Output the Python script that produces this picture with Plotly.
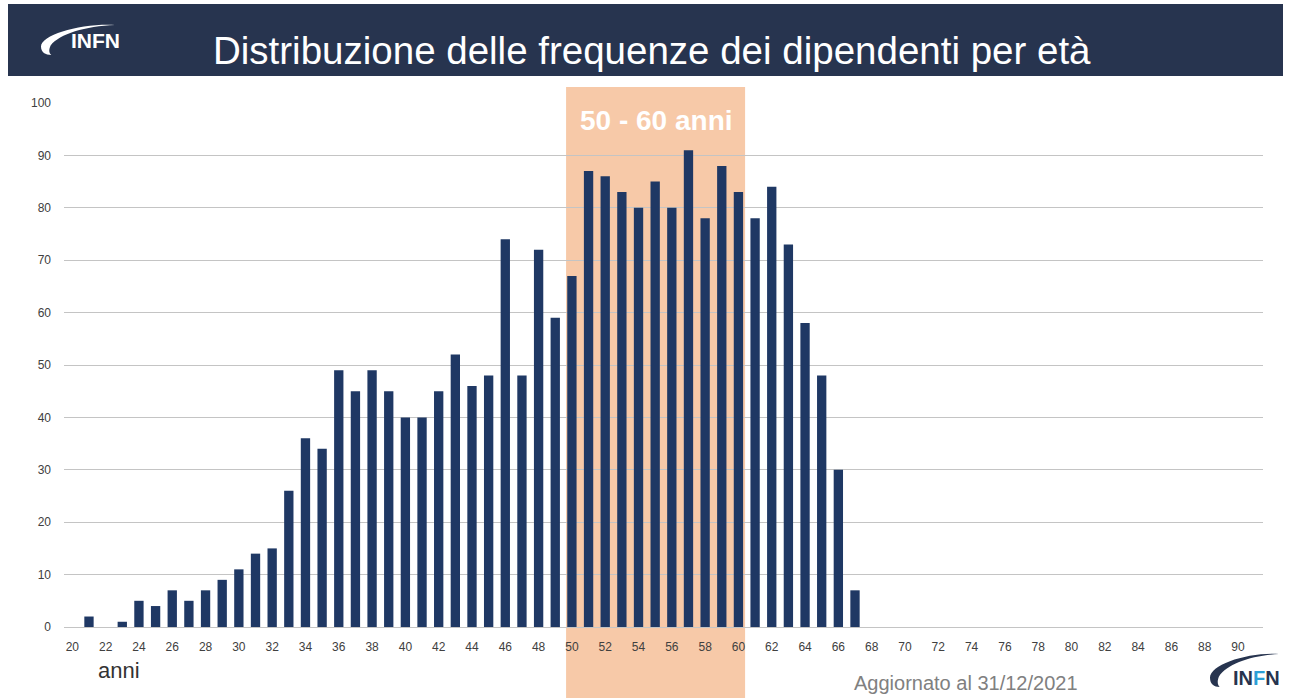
import plotly.graph_objects as go

# ---- data ----
ages = list(range(20, 91))
counts = [0, 2, 0, 1, 5, 4, 7, 5, 7, 9,
          11, 14, 15, 26, 36, 34, 49, 45, 49, 45,
          40, 40, 45, 52, 46, 48, 74, 48, 72, 59,
          67, 87, 86, 83, 80, 85, 80, 91, 78, 88,
          83, 78, 84, 73, 58, 48, 30, 7, 0, 0,
          0, 0, 0, 0, 0, 0, 0, 0, 0, 0,
          0, 0, 0, 0, 0, 0, 0, 0, 0, 0, 0]
tick_ages = list(range(20, 91, 2))
highlight_range = (50, 60)

title_text = "Distribuzione delle frequenze dei dipendenti per età"
highlight_label = "50 - 60 anni"
axis_label = "anni"
update_text = "Aggiornato al 31/12/2021"

W, H = 1289, 698
L, R, T, B = 64, 26, 103, 71
PW, PH = W - L - R, H - T - B

def px(x):
    return (x - L) / PW

def py(y):
    return (H - B - y) / PH

NAVY = "#1f3864"

fig = go.Figure()
fig.add_trace(go.Bar(
    x=ages, y=counts, width=0.56,
    marker=dict(color=NAVY, line=dict(width=0)),
    hoverinfo="x+y",
))

shapes = []
# header band
shapes.append(dict(type="rect", xref="paper", yref="paper",
                   x0=px(8), x1=px(1283), y0=py(76), y1=py(4),
                   fillcolor="#27344f", line=dict(width=0), layer="above"))
# highlight rectangle
shapes.append(dict(type="rect", xref="x", yref="paper",
                   x0=highlight_range[0] - 0.35, x1=highlight_range[1] + 0.4,
                   y0=py(H + 2), y1=py(87),
                   fillcolor="#f7c9a8", line=dict(width=0), layer="below"))


def crescent(x0, x1, y0, y1):
    w, h = x1 - x0, y1 - y0
    def p(u, v):
        return f"{px(x0 + u * w):.5f},{py(y0 + v * h):.5f}"
    d = (f"M {p(1, 0)} "
         f"C {p(0.55, -0.06)} {p(0.0, 0.32)} {p(0.0, 0.72)} "
         f"C {p(0.0, 0.92)} {p(0.06, 1.0)} {p(0.14, 1.0)} "
         f"C {p(0.11, 0.93)} {p(0.1, 0.84)} {p(0.13, 0.68)} "
         f"C {p(0.25, 0.3)} {p(0.6, 0.04)} {p(1, 0)} Z")
    return d

shapes.append(dict(type="path", xref="paper", yref="paper",
                   path=crescent(41, 115, 25, 55), fillcolor="white",
                   line=dict(width=0), layer="above"))
shapes.append(dict(type="path", xref="paper", yref="paper",
                   path=crescent(1210, 1279, 654, 687), fillcolor="#27344f",
                   line=dict(width=0), layer="above"))

annotations = [
    dict(x=px(652), y=py(51), xref="paper", yref="paper", text=title_text,
         showarrow=False, font=dict(family="Liberation Sans, Arial", size=38.5, color="white"),
         xanchor="center", yanchor="middle"),
    dict(x=px(95), y=py(41), xref="paper", yref="paper", text="<b>INFN</b>",
         showarrow=False, font=dict(family="Liberation Sans, Arial", size=21, color="white"),
         xanchor="center", yanchor="middle"),
    dict(x=px(1256), y=py(678), xref="paper", yref="paper",
         text="<b>IN<span style='color:#2a9fd6'>F</span>N</b>",
         showarrow=False, font=dict(family="Liberation Sans, Arial", size=20, color="#27344f"),
         xanchor="center", yanchor="middle"),
    dict(x=(highlight_range[0] + highlight_range[1]) / 2 + 0.05, y=py(120), xref="x", yref="paper",
         text=f"<b>{highlight_label}</b>", showarrow=False,
         font=dict(family="Liberation Sans, Arial", size=28, color="white"),
         xanchor="center", yanchor="middle"),
    dict(x=px(119), y=py(670), xref="paper", yref="paper", text=axis_label,
         showarrow=False, font=dict(family="Liberation Sans, Arial", size=22, color="#333333"),
         xanchor="center", yanchor="middle"),
    dict(x=px(966), y=py(683), xref="paper", yref="paper", text=update_text,
         showarrow=False, font=dict(family="Liberation Sans, Arial", size=20, color="#808080"),
         xanchor="center", yanchor="middle"),
]

fig.update_layout(
    width=W, height=H,
    margin=dict(l=L, r=R, t=T, b=B),
    paper_bgcolor="white", plot_bgcolor="white",
    showlegend=False,
    shapes=shapes, annotations=annotations,
    bargap=0.44,
    xaxis=dict(range=[19.5, 91.5], tickvals=tick_ages, ticktext=[str(a) for a in tick_ages],
               showgrid=False, zeroline=False, showline=False, ticks="",
               tickfont=dict(family="Liberation Sans, Arial", size=12, color="#404040"),
               ticklabelstandoff=11),
    yaxis=dict(range=[0, 100], dtick=10, showgrid=True, gridcolor="#c4c4c4", gridwidth=1,
               zeroline=True, zerolinecolor="#c4c4c4", zerolinewidth=1, showline=False, ticks="",
               tickfont=dict(family="Liberation Sans, Arial", size=12, color="#404040"),
               ticklabelstandoff=12),
)

fig.write_html("out.html", config={"displayModeBar": False},
               post_script="document.body.style.margin='0';document.body.style.overflow='hidden';")
